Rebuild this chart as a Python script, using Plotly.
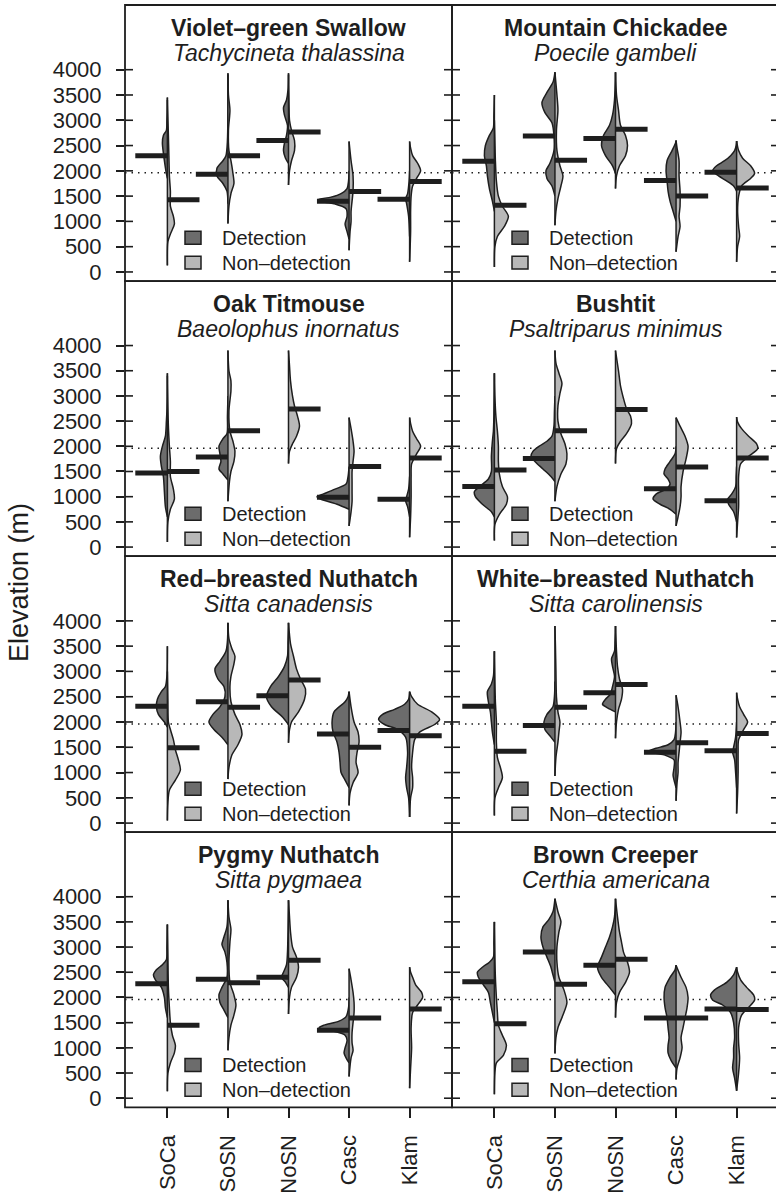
import plotly.graph_objects as go

# ---------------- data ----------------
REGIONS = ["SoCa", "SoSN", "NoSN", "Casc", "Klam"]
COMMON_NAMES = ["Violet–green Swallow", "Mountain Chickadee", "Oak Titmouse", "Bushtit",
                "Red–breasted Nuthatch", "White–breasted Nuthatch", "Pygmy Nuthatch", "Brown Creeper"]
LATIN_NAMES = ["Tachycineta thalassina", "Poecile gambeli", "Baeolophus inornatus", "Psaltriparus minimus",
               "Sitta canadensis", "Sitta carolinensis", "Sitta pygmaea", "Certhia americana"]
Y_TICKS = [0, 500, 1000, 1500, 2000, 2500, 3000, 3500, 4000]
REFERENCE_ELEVATION = 1960
LEGEND_LABELS = ["Detection", "Non–detection"]

# density outlines: (elevation m, relative half-width) per region; None = no data
vgsw_det = [
    [(1850, 0), (2000, 1.5), (2200, 3), (2350, 4), (2550, 5), (2700, 4), (2800, 1), (3000, 0.5), (3450, 0)],
    [(1350, 0), (1600, 1), (1750, 5), (1900, 11), (2050, 11), (2200, 5), (2300, 2), (2600, 0.5), (3900, 0)],
    [(2150, 0), (2250, 3), (2400, 5), (2550, 4), (2700, 2), (2900, 1), (3100, 4), (3250, 5), (3400, 2), (3600, 0.5), (3900, 0)],
    [(650, 0), (800, 2), (950, 4), (1100, 2), (1250, 3), (1350, 15), (1400, 30), (1430, 31), (1480, 18), (1550, 8), (1650, 2), (1800, 0.5), (2000, 0)],
    [(700, 0), (1100, 1), (1350, 3), (1450, 4), (1550, 2), (1800, 0.5), (2000, 0)],
]
vgsw_non = [
    [(130, 0), (600, 0.5), (750, 3), (950, 7), (1100, 6), (1300, 3), (1600, 3), (1900, 2), (2300, 1.5), (2700, 1), (3400, 0)],
    [(960, 0), (1300, 1), (1550, 3), (1750, 6), (1950, 5), (2200, 3), (2400, 1), (2800, 0.5), (3200, 2), (3500, 0.5), (3930, 0)],
    [(1720, 0), (2000, 1), (2200, 3), (2400, 6), (2600, 6), (2800, 3), (3000, 1), (3300, 0.5), (3930, 0)],
    [(430, 0), (800, 1), (1000, 2), (1200, 2), (1400, 3), (1600, 4), (1900, 4), (2200, 2), (2580, 0)],
    [(200, 0), (800, 1), (1200, 1), (1500, 1.5), (1700, 3), (1850, 7), (2000, 11), (2150, 8), (2300, 3), (2450, 1), (2580, 0)],
]
vgsw_det_med = [2300, 1930, 2600, 1400, 1440]
vgsw_non_med = [1430, 2300, 2770, 1590, 1790]

moch_det = [
    [(1200, 0), (1400, 2), (1650, 5), (1900, 7), (2100, 8), (2300, 10), (2500, 9), (2700, 5), (2850, 1), (3100, 0.5), (3500, 0)],
    [(1500, 0), (1700, 3), (1850, 8), (2000, 9), (2150, 5), (2400, 1), (2700, 1), (2950, 3), (3150, 10), (3350, 13), (3550, 8), (3750, 2), (3950, 0)],
    [(1950, 0), (2100, 3), (2300, 10), (2500, 14), (2700, 12), (2900, 6), (3100, 3), (3400, 1), (3950, 0)],
    [(1000, 0), (1200, 3), (1400, 6), (1600, 8), (1800, 9), (2000, 10), (2200, 9), (2400, 4), (2550, 0.5), (2600, 0)],
    [(1600, 0), (1700, 3), (1800, 10), (1900, 18), (2000, 24), (2100, 20), (2200, 12), (2300, 6), (2400, 2), (2500, 0.5), (2590, 0)],
]
moch_non = [
    [(100, 0), (500, 0.5), (700, 3), (900, 10), (1100, 14), (1300, 8), (1500, 4), (1800, 2), (2200, 1), (2600, 0.5), (3000, 0)],
    [(925, 0), (1200, 1), (1450, 3), (1700, 6), (1900, 8), (2100, 5), (2400, 2), (2800, 1.5), (3200, 3), (3500, 2), (3950, 0)],
    [(1650, 0), (1900, 1), (2100, 4), (2300, 10), (2500, 12), (2700, 10), (2900, 5), (3200, 3), (3500, 1), (3950, 0)],
    [(400, 0), (700, 2), (900, 4), (1100, 3), (1300, 4), (1600, 4), (1900, 3), (2200, 3), (2450, 1), (2600, 0)],
    [(200, 0), (500, 1), (700, 3), (900, 2), (1200, 1), (1500, 2), (1700, 5), (1850, 14), (1950, 18), (2100, 14), (2250, 6), (2400, 2), (2590, 0)],
]
moch_det_med = [2190, 2690, 2640, 1810, 1970]
moch_non_med = [1320, 2210, 2820, 1500, 1660]

oati_det = [
    [(600, 0), (800, 2), (1100, 3), (1400, 4), (1600, 6), (1800, 7), (2000, 5), (2200, 2), (2500, 1), (2700, 0.5), (3450, 0)],
    [(1330, 0), (1450, 5), (1550, 9), (1700, 7), (1850, 8), (2000, 9), (2150, 5), (2250, 1), (2600, 0.5), (3000, 0)],
    None,
    [(750, 0), (850, 12), (950, 28), (1000, 32), (1050, 26), (1150, 14), (1250, 3), (1400, 1), (1600, 0)],
    [(600, 0), (800, 2), (920, 4), (1000, 3), (1150, 1), (1400, 0)],
]
oati_non = [
    [(100, 0), (500, 0.5), (750, 3), (950, 7), (1150, 6), (1400, 3), (1700, 3), (2000, 2), (2400, 1), (2800, 0.5), (3400, 0)],
    [(910, 0), (1300, 1.5), (1500, 3), (1700, 6), (1900, 7), (2100, 5), (2300, 2), (2700, 1), (3100, 3), (3300, 3), (3500, 1), (3900, 0)],
    [(1660, 0), (1900, 1), (2050, 4), (2200, 8), (2400, 11), (2600, 9), (2800, 6), (3000, 4), (3300, 2), (3600, 1), (3900, 0)],
    [(420, 0), (700, 2), (900, 3), (1100, 3), (1300, 3), (1500, 3), (1700, 4), (1900, 5), (2100, 4), (2350, 2), (2570, 0)],
    [(195, 0), (600, 1), (1000, 1.5), (1400, 1.5), (1650, 2), (1850, 7), (2000, 11), (2150, 7), (2300, 3), (2450, 1), (2570, 0)],
]
oati_det_med = [1470, 1790, None, 990, 950]
oati_non_med = [1500, 2310, 2740, 1600, 1770]

bush_det = [
    [(600, 0), (700, 3), (850, 12), (1000, 19), (1100, 20), (1200, 15), (1350, 6), (1500, 3), (1800, 3), (2100, 2), (2300, 1), (2600, 0.5), (3450, 0)],
    [(1300, 0), (1400, 4), (1550, 12), (1700, 20), (1800, 24), (1900, 22), (2000, 16), (2100, 8), (2200, 3), (2400, 1), (2700, 0.5), (3000, 0)],
    None,
    [(650, 0), (750, 6), (850, 16), (950, 23), (1050, 20), (1150, 10), (1250, 6), (1350, 8), (1450, 12), (1550, 11), (1700, 6), (1850, 1), (2000, 0)],
    [(500, 0), (700, 3), (850, 8), (950, 9), (1050, 5), (1200, 1), (1400, 0.5), (1600, 0)],
]
bush_non = [
    [(130, 0), (450, 0.5), (650, 5), (850, 12), (1000, 13), (1200, 8), (1450, 5), (1700, 4), (2000, 4), (2300, 3), (2600, 1.5), (3000, 0.5), (3450, 0)],
    [(910, 0), (1200, 2), (1450, 6), (1650, 11), (1850, 12), (2050, 10), (2250, 6), (2500, 3), (2800, 3), (3050, 5), (3250, 7), (3450, 4), (3650, 1), (3900, 0)],
    [(1660, 0), (1950, 1), (2100, 5), (2250, 11), (2450, 16), (2600, 15), (2750, 11), (2950, 8), (3200, 5), (3500, 3), (3900, 0)],
    [(420, 0), (600, 2), (800, 4), (1000, 5), (1200, 5), (1500, 7), (1750, 10), (2000, 12), (2200, 9), (2400, 4), (2570, 0)],
    [(190, 0), (500, 1), (800, 2), (1100, 2), (1400, 2), (1650, 4), (1800, 12), (1950, 21), (2050, 20), (2200, 12), (2350, 5), (2480, 1), (2580, 0)],
]
bush_det_med = [1200, 1760, None, 1160, 920]
bush_non_med = [1530, 2310, 2730, 1590, 1770]

rbnu_det = [
    [(1900, 0), (2000, 3), (2150, 9), (2300, 11), (2450, 10), (2600, 6), (2700, 2), (2900, 0.5), (3500, 0)],
    [(1550, 0), (1700, 6), (1850, 14), (2000, 19), (2150, 15), (2300, 8), (2500, 3), (2700, 4), (2850, 10), (3050, 13), (3200, 8), (3400, 2), (3600, 0.5), (3960, 0)],
    [(1950, 0), (2100, 6), (2300, 17), (2500, 22), (2700, 18), (2900, 10), (3100, 4), (3300, 1), (3600, 0.5), (3960, 0)],
    [(700, 0), (850, 4), (1000, 8), (1200, 9), (1400, 10), (1600, 12), (1800, 16), (2000, 17), (2200, 15), (2400, 4), (2500, 1), (2600, 0)],
    [(120, 0), (500, 1), (700, 3), (900, 4), (1100, 3), (1400, 2), (1700, 4), (1850, 12), (1950, 25), (2050, 31), (2150, 27), (2250, 15), (2350, 5), (2450, 1), (2600, 0)],
]
rbnu_non = [
    [(50, 0), (400, 0.5), (650, 2), (850, 8), (1050, 13), (1250, 11), (1450, 8), (1650, 6), (1850, 3), (2000, 1), (2400, 0.5), (3000, 0)],
    [(870, 0), (1100, 1), (1350, 4), (1550, 10), (1750, 14), (1950, 12), (2150, 7), (2400, 3), (2700, 2), (2900, 3), (3150, 6), (3300, 7), (3450, 4), (3650, 1), (3960, 0)],
    [(1590, 0), (1850, 1), (2000, 3), (2200, 10), (2450, 16), (2650, 17), (2850, 12), (3050, 8), (3300, 5), (3550, 2), (3960, 0)],
    [(350, 0), (600, 1), (800, 4), (1000, 9), (1200, 7), (1400, 8), (1600, 10), (1800, 9), (2000, 5), (2300, 2), (2600, 0)],
    [(120, 0), (500, 1), (700, 3), (900, 3), (1100, 2), (1400, 3), (1650, 5), (1800, 10), (1950, 25), (2050, 30), (2200, 22), (2350, 8), (2500, 2), (2600, 0)],
]
rbnu_det_med = [2310, 2400, 2520, 1760, 1830]
rbnu_non_med = [1490, 2290, 2830, 1500, 1730]

wbnu_det = [
    [(1550, 0), (1800, 2), (2000, 3), (2200, 4), (2400, 6), (2600, 7), (2750, 3), (2900, 1), (3400, 0)],
    [(1600, 0), (1700, 4), (1850, 10), (2000, 11), (2150, 8), (2300, 2), (2500, 0.5), (2800, 0)],
    [(2200, 0), (2280, 8), (2350, 13), (2450, 10), (2550, 5), (2700, 3), (2900, 1), (3100, 3), (3250, 4), (3400, 1), (3600, 0.5), (3900, 0)],
    [(700, 0), (850, 2), (950, 3), (1100, 2), (1250, 2), (1350, 12), (1420, 28), (1480, 20), (1550, 8), (1650, 2), (1800, 0.5), (2000, 0)],
    [(700, 0), (1000, 1), (1250, 2), (1400, 4), (1500, 3), (1700, 1), (2000, 0)],
]
wbnu_non = [
    [(150, 0), (500, 0.5), (700, 4), (900, 8), (1100, 6), (1300, 3), (1600, 2), (2000, 2), (2400, 1), (2800, 0.5), (3400, 0)],
    [(930, 0), (1300, 1), (1600, 3), (1800, 4), (2000, 5), (2200, 3), (2500, 1.5), (3000, 1), (3500, 0.5), (3900, 0)],
    [(1680, 0), (2000, 1), (2250, 3), (2450, 6), (2650, 7), (2850, 4), (3100, 2), (3400, 1), (3900, 0)],
    [(440, 0), (800, 1), (1000, 2), (1200, 2), (1400, 3), (1600, 4), (1800, 5), (2000, 4), (2300, 2), (2530, 0)],
    [(190, 0), (600, 1), (1000, 1.5), (1400, 1.5), (1650, 2), (1850, 7), (2000, 11), (2150, 7), (2300, 3), (2450, 1), (2580, 0)],
]
wbnu_det_med = [2310, 1930, 2580, 1400, 1430]
wbnu_non_med = [1420, 2290, 2740, 1590, 1770]

pynu_det = [
    [(1600, 0), (1800, 2), (2000, 3), (2200, 6), (2350, 12), (2450, 14), (2550, 11), (2650, 5), (2750, 1), (3000, 0.5), (3450, 0)],
    [(1600, 0), (1750, 4), (1900, 8), (2050, 9), (2200, 6), (2400, 1), (2700, 1), (2900, 3), (3050, 6), (3200, 4), (3400, 1), (3930, 0)],
    [(2200, 0), (2300, 3), (2400, 7), (2500, 5), (2650, 2), (2900, 1), (3300, 0.5), (3930, 0)],
    [(700, 0), (800, 3), (900, 5), (1000, 4), (1150, 2), (1250, 4), (1330, 15), (1400, 30), (1450, 25), (1530, 10), (1620, 3), (1800, 0.5), (2000, 0)],
    None,
]
pynu_non = [
    [(140, 0), (500, 0.5), (700, 3), (900, 7), (1050, 8), (1250, 5), (1500, 3), (1800, 2), (2200, 1), (2800, 0.5), (3450, 0)],
    [(950, 0), (1200, 1), (1450, 3), (1650, 6), (1850, 8), (2050, 6), (2300, 2), (2700, 1), (3100, 2), (3350, 3), (3600, 1), (3930, 0)],
    [(1670, 0), (2000, 1), (2200, 3), (2400, 8), (2600, 10), (2800, 8), (3000, 4), (3300, 2), (3600, 1), (3930, 0)],
    [(430, 0), (800, 2), (950, 4), (1100, 3), (1300, 3), (1500, 4), (1700, 5), (1900, 5), (2100, 4), (2350, 2), (2570, 0)],
    [(200, 0), (600, 1), (1000, 2), (1400, 1.5), (1700, 3), (1850, 8), (2000, 13), (2100, 12), (2250, 6), (2400, 3), (2500, 1), (2600, 0)],
]
pynu_det_med = [2270, 2360, 2400, 1350, None]
pynu_non_med = [1450, 2290, 2740, 1590, 1770]

brcr_det = [
    [(1500, 0), (1700, 2), (1900, 4), (2100, 6), (2250, 11), (2400, 16), (2500, 17), (2600, 12), (2700, 5), (2800, 1), (3100, 0.5), (3500, 0)],
    [(2300, 0), (2450, 2), (2600, 4), (2800, 8), (3000, 12), (3200, 14), (3400, 12), (3550, 6), (3700, 2), (3960, 0)],
    [(2050, 0), (2200, 6), (2400, 14), (2600, 18), (2800, 14), (3000, 10), (3200, 6), (3400, 3), (3600, 1), (3960, 0)],
    [(600, 0), (750, 5), (900, 8), (1050, 8), (1200, 7), (1400, 8), (1600, 9), (1800, 11), (2000, 12), (2200, 11), (2400, 6), (2550, 1), (2640, 0)],
    [(150, 0), (400, 2), (600, 4), (800, 3), (1000, 3), (1200, 2), (1500, 3), (1700, 6), (1850, 14), (1950, 24), (2050, 26), (2150, 22), (2300, 10), (2450, 3), (2600, 0)],
]
brcr_non = [
    [(80, 0), (500, 0.5), (700, 2), (850, 9), (1050, 12), (1250, 8), (1450, 4), (1700, 3), (2000, 2), (2400, 1), (2800, 0.5), (3500, 0)],
    [(890, 0), (1200, 1), (1400, 3), (1650, 8), (1900, 12), (2150, 9), (2400, 4), (2700, 2), (3000, 2), (3300, 4), (3500, 6), (3700, 3), (3960, 0)],
    [(1600, 0), (1900, 1), (2100, 4), (2300, 10), (2500, 14), (2700, 12), (2900, 8), (3100, 6), (3300, 4), (3600, 2), (3960, 0)],
    [(370, 0), (600, 1), (800, 4), (1000, 6), (1200, 5), (1400, 7), (1600, 9), (1800, 11), (2000, 12), (2200, 10), (2400, 5), (2640, 0)],
    [(150, 0), (500, 2), (800, 3), (1100, 2), (1400, 2), (1650, 5), (1800, 12), (1950, 18), (2050, 17), (2200, 10), (2350, 4), (2500, 1), (2600, 0)],
]
brcr_det_med = [2310, 2900, 2640, 1590, 1770]
brcr_non_med = [1480, 2260, 2760, 1590, 1760]

PANELS = [
    (vgsw_det, vgsw_non, vgsw_det_med, vgsw_non_med),
    (moch_det, moch_non, moch_det_med, moch_non_med),
    (oati_det, oati_non, oati_det_med, oati_non_med),
    (bush_det, bush_non, bush_det_med, bush_non_med),
    (rbnu_det, rbnu_non, rbnu_det_med, rbnu_non_med),
    (wbnu_det, wbnu_non, wbnu_det_med, wbnu_non_med),
    (pynu_det, pynu_non, pynu_det_med, pynu_non_med),
    (brcr_det, brcr_non, brcr_det_med, brcr_non_med),
]

# ---------------- styling / layout ----------------
W, H = 776, 1195
FONT = "Liberation Sans"
INK = "#1e1e1e"
DARK = "#6c6c6c"
LIGHT = "#b8b8b8"
COL_PX = [(125, 452), (452, 779)]
ROW_PX = [(5, 282), (282, 558), (558, 835), (835, 1111)]
Y_RANGE = [-180, 5280]
X_START = 0.3
PX_PER_UNIT = 327 / 5.4
WIDTH_UNIT = 1.0 / PX_PER_UNIT   # relative width -> category units
BAR_HALF = 0.53
TICK_PX = 8

fig = go.Figure()
shapes = []
annotations = []
layout_axes = {}

for i, (det, non, det_med, non_med) in enumerate(PANELS):
    row, col = divmod(i, 2)
    k = i + 1
    xn = "x" if k == 1 else f"x{k}"
    yn = "y" if k == 1 else f"y{k}"
    xl = "xaxis" if k == 1 else f"xaxis{k}"
    yl = "yaxis" if k == 1 else f"yaxis{k}"
    pl, pr = COL_PX[col]
    pt, pb = ROW_PX[row]
    vis_r = min(pr, W)
    x_end = X_START + (vis_r - pl) / PX_PER_UNIT
    panel_w = vis_r - pl

    layout_axes[xl] = dict(
        domain=[pl / W, vis_r / W], range=[X_START, x_end], anchor=yn,
        tickvals=[1, 2, 3, 4, 5], ticktext=REGIONS,
        showticklabels=(row == 3), ticks=("outside" if row == 3 else ""),
        ticklen=10, tickwidth=1.6, tickcolor=INK, tickangle=-90,
        ticklabelstandoff=8,
        tickfont=dict(family=FONT, size=22, color=INK),
        showgrid=False, zeroline=False, showline=False, fixedrange=True)
    layout_axes[yl] = dict(
        domain=[1 - pb / H, 1 - pt / H], range=Y_RANGE, anchor=xn,
        tickvals=Y_TICKS, showticklabels=(col == 0),
        ticks=("outside" if col == 0 else ""), ticklen=TICK_PX, tickwidth=1.6, tickcolor=INK,
        ticklabelstandoff=10,
        tickfont=dict(family=FONT, size=22, color=INK),
        showgrid=False, zeroline=False, showline=False, fixedrange=True)

    # violins
    for j in range(5):
        c = j + 1
        elevs = []
        for half, sign, color in ((det[j], -1, DARK), (non[j], 1, LIGHT)):
            if half is None:
                continue
            xs = [c + sign * w * WIDTH_UNIT for e, w in half]
            ys = [e for e, w in half]
            elevs += ys
            fig.add_trace(go.Scatter(
                x=xs, y=ys, mode="lines", fill="toself", fillcolor=color,
                line=dict(color=INK, width=1.5, shape="spline", smoothing=0.8),
                xaxis=xn, yaxis=yn, hoverinfo="skip", showlegend=False))
        fig.add_trace(go.Scatter(
            x=[c, c], y=[min(elevs), max(elevs)], mode="lines",
            line=dict(color=INK, width=1.5), xaxis=xn, yaxis=yn,
            hoverinfo="skip", showlegend=False))
    # medians
    for j in range(5):
        c = j + 1
        if det_med[j] is not None:
            fig.add_trace(go.Scatter(
                x=[c - BAR_HALF, c], y=[det_med[j], det_med[j]], mode="lines",
                line=dict(color=INK, width=5), xaxis=xn, yaxis=yn,
                hoverinfo="skip", showlegend=False))
        if non_med[j] is not None:
            fig.add_trace(go.Scatter(
                x=[c, c + BAR_HALF], y=[non_med[j], non_med[j]], mode="lines",
                line=dict(color=INK, width=5), xaxis=xn, yaxis=yn,
                hoverinfo="skip", showlegend=False))

    # reference dotted line
    shapes.append(dict(type="line", xref=xn, yref=yn, x0=X_START, x1=x_end,
                       y0=REFERENCE_ELEVATION, y1=REFERENCE_ELEVATION, layer="below",
                       line=dict(color=INK, width=1.5, dash="1.5px,5px")))
    # border
    shapes.append(dict(type="rect", xref=f"{xn} domain", yref=f"{yn} domain",
                       x0=0, x1=(pr - pl) / panel_w, y0=0, y1=1,
                       line=dict(color=INK, width=1.8), fillcolor="rgba(0,0,0,0)"))
    # inside tick marks
    yspan = Y_RANGE[1] - Y_RANGE[0]
    for v in Y_TICKS:
        yf = (v - Y_RANGE[0]) / yspan
        if col == 0:
            shapes.append(dict(type="line", xref=f"{xn} domain", yref=f"{yn} domain",
                               x0=0, x1=TICK_PX / panel_w, y0=yf, y1=yf,
                               line=dict(color=INK, width=1.6)))
            shapes.append(dict(type="line", xref=f"{xn} domain", yref=f"{yn} domain",
                               x0=1 - TICK_PX / panel_w, x1=1 + TICK_PX / panel_w, y0=yf, y1=yf,
                               line=dict(color=INK, width=1.6)))
        else:
            shapes.append(dict(type="line", xref=f"{xn} domain", yref=f"{yn} domain",
                               x0=(pr - pl - TICK_PX) / panel_w, x1=(pr - pl + TICK_PX) / panel_w,
                               y0=yf, y1=yf, line=dict(color=INK, width=1.6)))

    # titles
    cx = (pl + pr) / 2 / W
    annotations.append(dict(text=f"<b>{COMMON_NAMES[i]}</b>", x=cx, y=1 - (pt + 23) / H,
                            xref="paper", yref="paper", showarrow=False,
                            xanchor="center", yanchor="middle",
                            font=dict(family=FONT, size=23, color=INK)))
    annotations.append(dict(text=f"<i>{LATIN_NAMES[i]}</i>", x=cx, y=1 - (pt + 48) / H,
                            xref="paper", yref="paper", showarrow=False,
                            xanchor="center", yanchor="middle",
                            font=dict(family=FONT, size=23, color=INK)))
    # legend boxes
    for m, (lab, colr) in enumerate(zip(LEGEND_LABELS, (DARK, LIGHT))):
        cy = pt + 233.5 + 25 * m
        shapes.append(dict(type="rect", xref="paper", yref="paper",
                           x0=(pl + 60) / W, x1=(pl + 76) / W,
                           y0=1 - (cy + 6.5) / H, y1=1 - (cy - 6.5) / H,
                           line=dict(color=INK, width=1.5), fillcolor=colr))
        annotations.append(dict(text=lab, x=(pl + 95) / W, y=1 - cy / H,
                                xref="paper", yref="paper", showarrow=False,
                                xanchor="left", yanchor="middle",
                                font=dict(family=FONT, size=20, color=INK)))

annotations.append(dict(text="Elevation (m)", x=19 / W, y=1 - 585 / H, xref="paper", yref="paper",
                        showarrow=False, textangle=-90, xanchor="center", yanchor="middle",
                        font=dict(family=FONT, size=27, color=INK)))

fig.update_layout(
    width=W, height=H, autosize=False,
    margin=dict(l=0, r=0, t=0, b=0, pad=0),
    paper_bgcolor="white", plot_bgcolor="white",
    showlegend=False, shapes=shapes, annotations=annotations,
    **layout_axes)

fig.write_html("out.html")
